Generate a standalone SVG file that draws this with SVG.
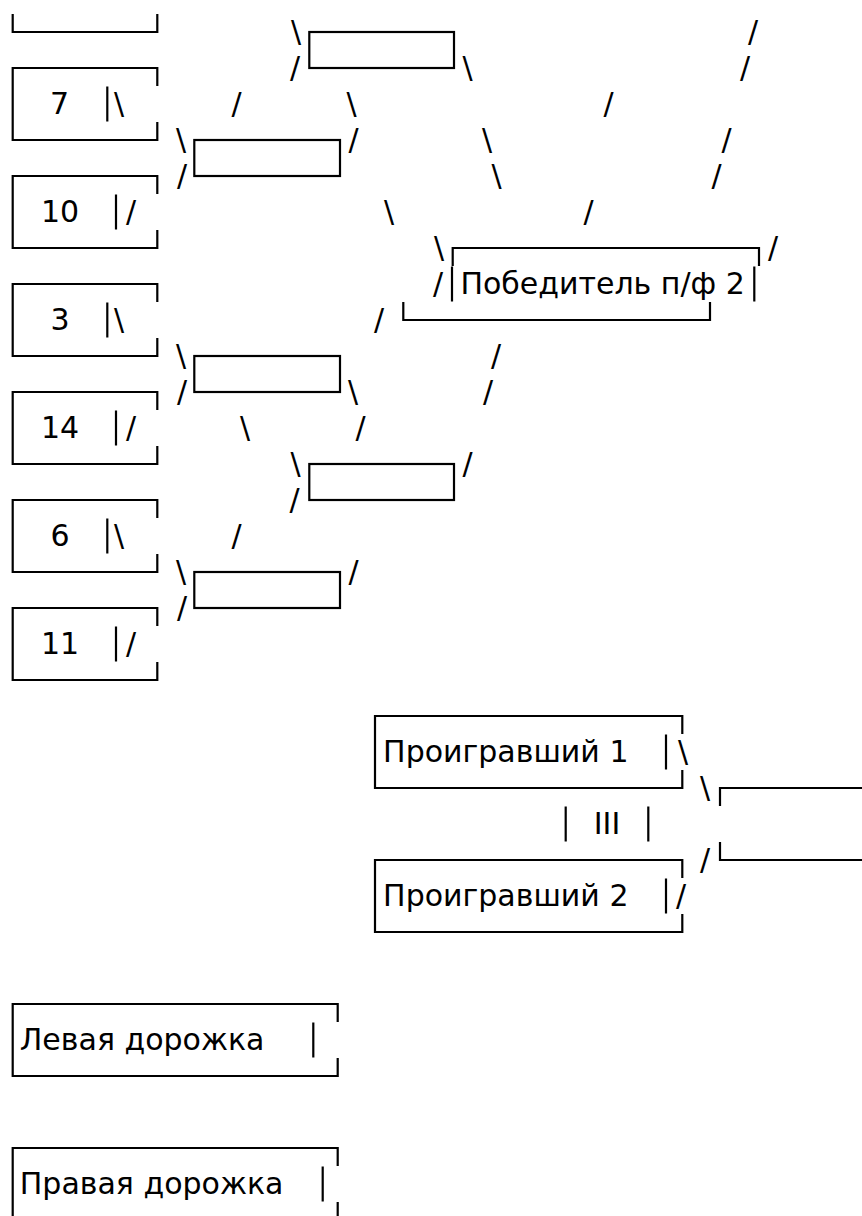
<svg xmlns="http://www.w3.org/2000/svg" width="862" height="1216" viewBox="0 0 862 1216">
<style>
.b{fill:none;stroke:#000;stroke-width:2.2;stroke-linecap:butt;stroke-linejoin:miter}
.t{font-family:"DejaVu Sans","Noto Sans",sans-serif;font-size:30px;fill:#000}
.m{text-anchor:middle}
</style>
<rect width="862" height="1216" fill="#fff"/>
<g id="seed-top">
<path class="b" d="M12.7,14 V32 H157.3 V14"/>
</g>
<g id="seed-7">
<path class="b" d="M157.3,86 V68 H12.7 V140 H157.3 V122 M107.3,86.5 V121.5"/>
<text class="t m" x="59.5" y="114.4">7</text>
</g>
<g id="seed-10">
<path class="b" d="M157.3,194 V176 H12.7 V248 H157.3 V230 M116,194.5 V229.5"/>
<text class="t m" x="60" y="222.4">10</text>
</g>
<g id="seed-3">
<path class="b" d="M157.3,302 V284 H12.7 V356 H157.3 V338 M107.3,302.5 V337.5"/>
<text class="t m" x="60" y="330.4">3</text>
</g>
<g id="seed-14">
<path class="b" d="M157.3,410 V392 H12.7 V464 H157.3 V446 M116,410.5 V445.5"/>
<text class="t m" x="60" y="438.4">14</text>
</g>
<g id="seed-6">
<path class="b" d="M157.3,518 V500 H12.7 V572 H157.3 V554 M107.3,518.5 V553.5"/>
<text class="t m" x="60" y="546.4">6</text>
</g>
<g id="seed-11">
<path class="b" d="M157.3,626 V608 H12.7 V680 H157.3 V662 M116,626.5 V661.5"/>
<text class="t m" x="60" y="654.4">11</text>
</g>
<g id="r2-a"><rect class="b" x="194.3" y="140" width="145.7" height="36"/></g>
<g id="r2-b"><rect class="b" x="194.3" y="356" width="145.7" height="36"/></g>
<g id="r2-c"><rect class="b" x="194.3" y="572" width="145.7" height="36"/></g>
<g id="r3-a"><rect class="b" x="309.3" y="32" width="144.7" height="36"/></g>
<g id="r3-b"><rect class="b" x="309.3" y="464" width="144.7" height="36"/></g>
<g id="sf2">
<path class="b" d="M452.7,266 V248 H759 V266 M452,266.5 V301.5 M754.3,266.5 V301.5 M403.3,302 V320 H710 V302"/>
<text class="t" x="460.4" y="294.4">Победитель п/ф 2</text>
</g>
<g id="loser-1">
<path class="b" d="M682.3,734 V716 H375 V788 H682.3 V770 M666,734.5 V769.5"/>
<text class="t" x="383.1" y="762.4">Проигравший 1</text>
</g>
<g id="third">
<path class="b" d="M565.7,806.5 V841.5 M648.3,806.5 V841.5"/>
<text class="t m" x="607" y="834.4">III</text>
</g>
<g id="loser-2">
<path class="b" d="M682.3,878 V860 H375 V932 H682.3 V914 M666,878.5 V913.5"/>
<text class="t" x="383.1" y="906.4">Проигравший 2</text>
</g>
<g id="third-result">
<path class="b" d="M862,788 H720 V806 M720,842 V860 H862"/>
</g>
<g id="left-lane">
<path class="b" d="M337.7,1022 V1004 H12.7 V1076 H337.7 V1058 M313.3,1022.5 V1057.5"/>
<text class="t" x="19.8" y="1050.4">Левая дорожка</text>
</g>
<g id="right-lane">
<path class="b" d="M337.7,1166 V1148 H12.7 V1220 H337.7 V1202 M322.7,1166.5 V1201.5"/>
<text class="t" x="19.8" y="1194.4">Правая дорожка</text>
</g>
<g id="connectors" class="t m">
<text x="296" y="42.4">\</text><text x="753" y="42.4">/</text>
<text x="295" y="78.4">/</text><text x="467.5" y="78.4">\</text><text x="745" y="78.4">/</text>
<text x="119" y="114.4">\</text><text x="236.5" y="114.4">/</text><text x="351.5" y="114.4">\</text><text x="608.5" y="114.4">/</text>
<text x="181" y="150.4">\</text><text x="353.5" y="150.4">/</text><text x="487" y="150.4">\</text><text x="726.5" y="150.4">/</text>
<text x="182" y="186.4">/</text><text x="496.5" y="186.4">\</text><text x="716.5" y="186.4">/</text>
<text x="131" y="222.4">/</text><text x="389" y="222.4">\</text><text x="588.5" y="222.4">/</text>
<text x="439" y="258.4">\</text><text x="773" y="258.4">/</text>
<text x="438" y="294.4">/</text>
<text x="119" y="330.4">\</text><text x="379" y="330.4">/</text>
<text x="181" y="366.4">\</text><text x="496" y="366.4">/</text>
<text x="182" y="402.4">/</text><text x="353" y="402.4">\</text><text x="488" y="402.4">/</text>
<text x="131" y="438.4">/</text><text x="245" y="438.4">\</text><text x="360.5" y="438.4">/</text>
<text x="295.5" y="474.4">\</text><text x="467.5" y="474.4">/</text>
<text x="294.5" y="510.4">/</text>
<text x="119" y="546.4">\</text><text x="236.5" y="546.4">/</text>
<text x="181" y="582.4">\</text><text x="353.5" y="582.4">/</text>
<text x="182" y="618.4">/</text>
<text x="131" y="654.4">/</text>
<text x="683" y="762.4">\</text>
<text x="705" y="798.4">\</text>
<text x="705" y="870.4">/</text>
<text x="681" y="906.4">/</text>
</g>
</svg>
